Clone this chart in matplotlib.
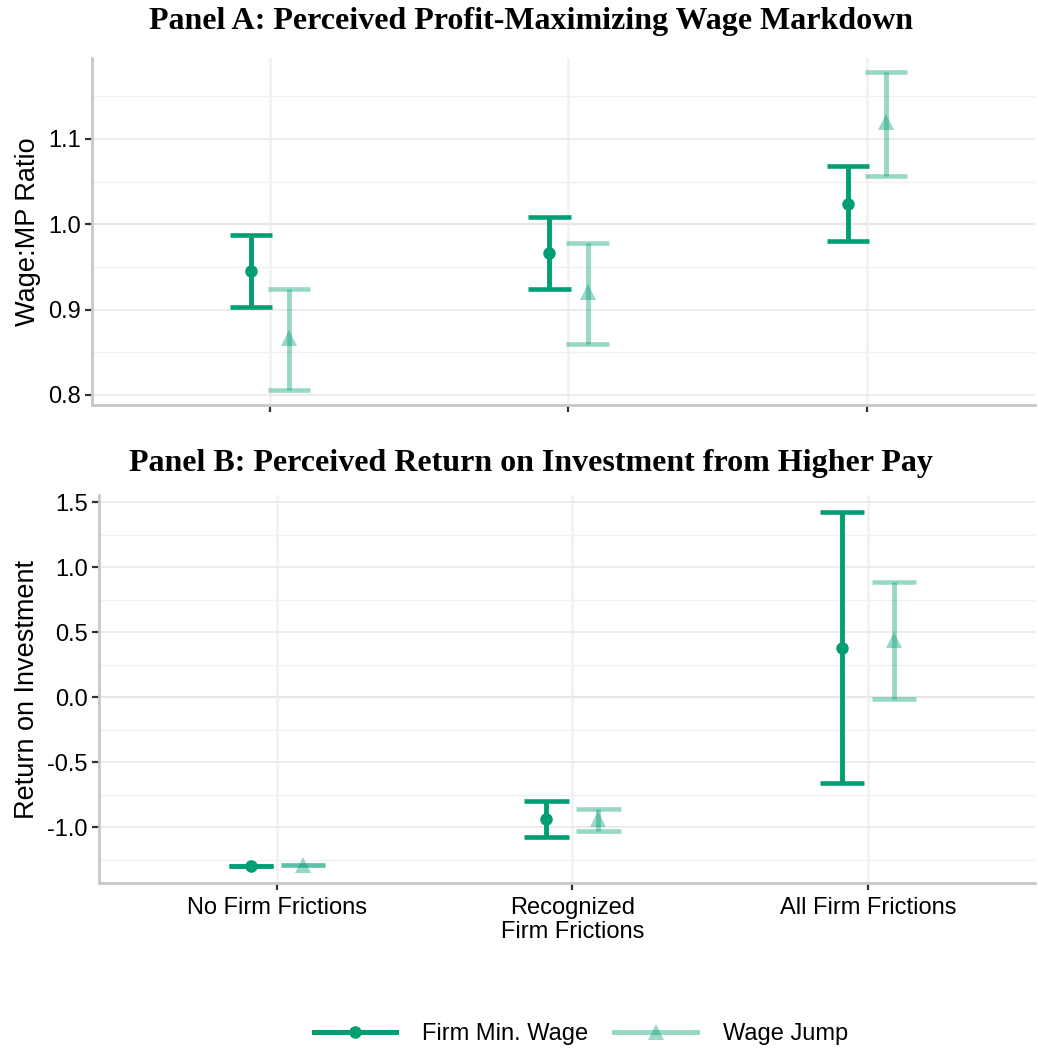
import matplotlib
matplotlib.use("Agg")
import matplotlib.pyplot as plt
from matplotlib.lines import Line2D

# Categories and series
categories = ["No Firm Frictions", "Recognized\nFirm Frictions", "All Firm Frictions"]
series = ["Firm Min. Wage", "Wage Jump"]

# Panel A: wage-to-marginal-product ratio (estimate, lower, upper)
a_minwage_est = [0.945, 0.966, 1.024]
a_minwage_lo = [0.903, 0.924, 0.980]
a_minwage_hi = [0.987, 1.008, 1.068]
a_jump_est = [0.867, 0.920, 1.120]
a_jump_lo = [0.806, 0.860, 1.057]
a_jump_hi = [0.924, 0.978, 1.178]

# Panel B: return on investment (estimate, lower, upper)
b_minwage_est = [-1.300, -0.940, 0.380]
b_minwage_lo = [-1.300, -1.080, -0.660]
b_minwage_hi = [-1.300, -0.798, 1.420]
b_jump_est = [-1.290, -0.940, 0.440]
b_jump_lo = [-1.290, -1.030, -0.015]
b_jump_hi = [-1.290, -0.859, 0.882]

GREEN = "#009E73"
LIGHT_ALPHA = 0.4

plt.rcParams["font.family"] = ["Liberation Sans", "DejaVu Sans"]

fig = plt.figure(figsize=(10.38, 10.5), dpi=100)
W, H = 1038, 1050


def axes_px(left, top, right, bottom):
    return fig.add_axes([left / W, 1 - bottom / H, (right - left) / W, (bottom - top) / H])


def style_axes(ax, xlim, ylim, major, minor, refline):
    ax.set_xlim(*xlim)
    ax.set_ylim(*ylim)
    ax.set_yticks(major)
    ax.set_yticks(minor, minor=True)
    ax.set_xticks([1, 2, 3])
    ax.grid(True, which="major", axis="y", color="#ebebeb", lw=1.3, zorder=0)
    ax.grid(True, which="minor", axis="y", color="#f0f0f0", lw=1.0, zorder=0)
    ax.grid(True, which="major", axis="x", color="#f2f2f2", lw=2.0, zorder=0)
    ax.axhline(refline, color="#b8b8b8", lw=1.5, zorder=1)
    for s in ["top", "right"]:
        ax.spines[s].set_visible(False)
    for s in ["left", "bottom"]:
        ax.spines[s].set_color("#c8c8c8")
        ax.spines[s].set_linewidth(2.0)
    ax.tick_params(axis="both", which="major", length=5, width=1.6, color="#333333",
                   labelsize=17, labelcolor="black", pad=3)
    ax.tick_params(axis="y", which="minor", length=0)


def draw_bars(ax, est, lo, hi, offset, alpha, marker, msize, capw):
    for i in range(len(est)):
        x = i + 1 + offset
        ax.plot([x, x], [lo[i], hi[i]], color=GREEN, alpha=alpha, lw=3.5,
                solid_capstyle="butt", zorder=3)
        for yv in (lo[i], hi[i]):
            ax.plot([x - capw, x + capw], [yv, yv], color=GREEN, alpha=alpha, lw=3.3,
                    solid_capstyle="butt", zorder=3)
        ax.plot([x], [est[i]], marker=marker, color=GREEN, alpha=alpha, ms=msize,
                mew=0, linestyle="none", zorder=4)


# Panel A
axA = axes_px(92, 58, 1035, 405)
style_axes(axA, (0.404, 3.563), (0.788, 1.195), [0.8, 0.9, 1.0, 1.1],
           [0.85, 0.95, 1.05, 1.15], 1.0)
axA.set_xticklabels([])
axA.set_yticklabels(["0.8", "0.9", "1.0", "1.1"])
draw_bars(axA, a_minwage_est, a_minwage_lo, a_minwage_hi, -0.064, 1.0, "o", 9, 0.071)
draw_bars(axA, a_jump_est, a_jump_lo, a_jump_hi, 0.064, LIGHT_ALPHA, "^", 12, 0.071)
axA.set_ylabel("Wage:MP Ratio", fontsize=19.5, labelpad=5)

# Panel B
axB = axes_px(99, 495, 1035, 883)
style_axes(axB, (0.398, 3.565), (-1.43, 1.554), [-1.0, -0.5, 0.0, 0.5, 1.0, 1.5],
           [-1.25, -0.75, -0.25, 0.25, 0.75, 1.25], 0.0)
axB.set_yticklabels(["-1.0", "-0.5", "0.0", "0.5", "1.0", "1.5"])
axB.set_xticklabels(categories, fontsize=17, linespacing=1.1)
axB.tick_params(axis="x", pad=5)
draw_bars(axB, b_minwage_est, b_minwage_lo, b_minwage_hi, -0.088, 1.0, "o", 9, 0.075)
draw_bars(axB, b_jump_est, b_jump_lo, b_jump_hi, 0.088, LIGHT_ALPHA, "^", 12, 0.075)
axB.set_ylabel("Return on Investment", fontsize=19.5, labelpad=5)

# Panel titles
title_kw = dict(fontsize=23, fontweight="bold", family=["Liberation Serif"],
                ha="center", va="center")
fig.text(531 / W, 1 - 21 / H, "Panel A: Perceived Profit-Maximizing Wage Markdown", **title_kw)
fig.text(531 / W, 1 - 463 / H, "Panel B: Perceived Return on Investment from Higher Pay", **title_kw)

# Legend
handles = [
    Line2D([0], [0], color=GREEN, lw=3.6, marker="o", ms=9, mew=0),
    Line2D([0], [0], color=GREEN, lw=3.6, marker="^", ms=12, mew=0, alpha=LIGHT_ALPHA),
]
fig.legend(handles, series, loc="center", bbox_to_anchor=(581 / W, 1 - 1034 / H),
           ncol=2, frameon=False, fontsize=17, handlelength=3.5, columnspacing=1.1,
           handletextpad=1.1)

fig.savefig("out.png", dpi=100)
